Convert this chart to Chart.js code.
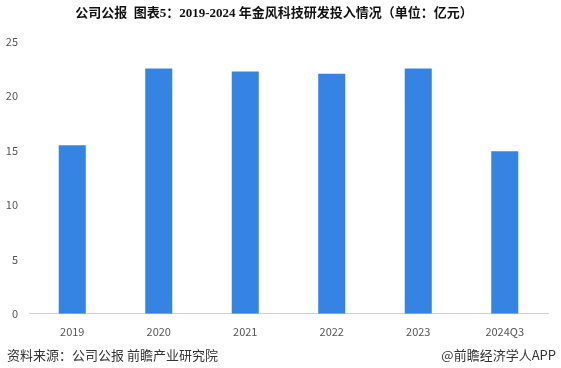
<!DOCTYPE html>
<html>
<head>
<meta charset="utf-8">
<script src="https://cdn.jsdelivr.net/npm/chart.js@4"></script>
<style>
  html, body { margin: 0; padding: 0; background: #fff; }
  #wrap { position: relative; width: 561px; height: 368px; }
  .foot { position: absolute; top: 346px; font-family: "Noto Sans CJK SC", sans-serif; font-size: 13px; color: #333; line-height: 18px; }
</style>
</head>
<body>
<div id="wrap">
  <canvas id="barChart" width="561" height="368"></canvas>
  <div class="foot" style="left:7px;">资料来源：公司公报 前瞻产业研究院</div>
  <div class="foot" style="right:5px;">@前瞻经济学人APP</div>
</div>
<script>
// 年份与研发投入（亿元）
const years = ['2019', '2020', '2021', '2022', '2023', '2024Q3'];
const rdSpend = [15.48, 22.53, 22.25, 22.04, 22.53, 14.93];
const yTicks = [0, 5, 10, 15, 20, 25];

const ctx = document.getElementById('barChart').getContext('2d');
const barChart = new Chart(ctx, {
    type: 'bar',
    data: {
        labels: years,
        datasets: [{
            label: '研发投入',
            data: rdSpend,
            backgroundColor: '#3584e4',
            barPercentage: 0.3125,
            categoryPercentage: 1,
        }],
    },
    options: {
        responsive: false,
        animation: false,
        layout: { padding: { left: 0, right: 13, top: 0, bottom: 27 } },
        plugins: {
            legend: { display: false },
            tooltip: { enabled: false },
            title: {
                display: true,
                text: '公司公报  图表5：2019-2024 年金风科技研发投入情况（单位：亿元）',
                color: '#111',
                font: { family: '"Liberation Serif", "Noto Sans CJK SC", serif', size: 13, weight: 'bold' },
                padding: { top: 6, bottom: 20 },
            },
        },
        scales: {
            x: {
                grid: { display: false },
                border: { display: true, color: '#d0d0d0' },
                ticks: {
                    color: '#555',
                    font: { family: '"Noto Sans CJK SC", sans-serif', size: 11 },
                    padding: 3,
                },
            },
            y: {
                min: 0,
                max: 25,
                afterFit: s => { s.width = 29; },
                afterBuildTicks: s => { s.ticks = yTicks.map(v => ({ value: v })); },
                grid: { display: false },
                border: { display: false },
                ticks: {
                    color: '#555',
                    font: { family: '"Noto Sans CJK SC", sans-serif', size: 11 },
                    padding: 3,
                },
            },
        },
    },
});
</script>
</body>
</html>
